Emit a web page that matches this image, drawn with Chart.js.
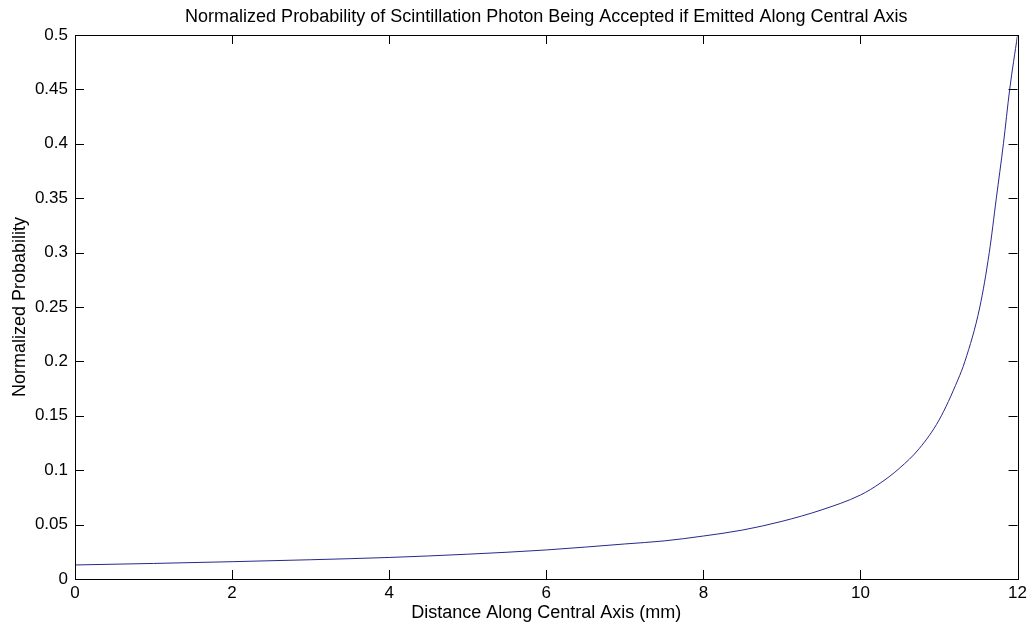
<!DOCTYPE html>
<html>
<head>
<meta charset="utf-8">
<script src="https://cdn.jsdelivr.net/npm/chart.js@4"></script>
<style>
  html, body { margin:0; padding:0; background:#fff; }
  #wrap { width:1031px; height:627px; }
</style>
</head>
<body>
<div id="wrap"><canvas id="chart"></canvas></div>
<script>
// values
const distance = [0, 1, 2, 3, 4, 5, 6, 7, 7.5, 8, 8.5, 9, 9.5, 10, 10.25, 10.5, 10.75, 11, 11.24, 11.33, 11.52, 11.64, 11.73, 11.82, 11.9, 12];
const probability = [0.0129, 0.0143, 0.0159, 0.0177, 0.0198, 0.0228, 0.0267, 0.0322, 0.035, 0.0395, 0.045, 0.053, 0.0634, 0.0772, 0.088, 0.102, 0.12, 0.146, 0.183, 0.2, 0.25, 0.3, 0.35, 0.4, 0.45, 0.5];
const xTicks = [0, 2, 4, 6, 8, 10, 12];
const yTicks = [0, 0.05, 0.1, 0.15, 0.2, 0.25, 0.3, 0.35, 0.4, 0.45, 0.5];
const yTickLabels = ['0', '0.05', '0.1', '0.15', '0.2', '0.25', '0.3', '0.35', '0.4', '0.45', '0.5'];

const FONT = '"Liberation Sans", Arial, sans-serif';
const TICK_LEN = 9;

// MATLAB-ish box with inward ticks on all four sides
const boxTicks = {
  id: 'boxTicks',
  afterDraw(chart) {
    const {ctx, chartArea: a, scales} = chart;
    ctx.save();
    ctx.strokeStyle = '#000';
    ctx.lineWidth = 1;
    ctx.strokeRect(Math.round(a.left) + 0.5, Math.round(a.top) + 0.5,
                   Math.round(a.right - a.left), Math.round(a.bottom - a.top));
    ctx.beginPath();
    xTicks.forEach(v => {
      const px = Math.round(scales.x.getPixelForValue(v)) + 0.5;
      ctx.moveTo(px, a.bottom); ctx.lineTo(px, a.bottom - TICK_LEN);
      ctx.moveTo(px, a.top);    ctx.lineTo(px, a.top + TICK_LEN);
    });
    yTicks.forEach(v => {
      const py = Math.round(scales.y.getPixelForValue(v)) + 0.5;
      ctx.moveTo(a.left, py);  ctx.lineTo(a.left + TICK_LEN, py);
      ctx.moveTo(a.right, py); ctx.lineTo(a.right - TICK_LEN, py);
    });
    ctx.stroke();
    ctx.restore();
  }
};

new Chart(document.getElementById('chart'), {
  type: 'line',
  data: {
    datasets: [{
      data: distance.map((d, i) => ({x: d, y: probability[i]})),
      borderColor: '#28288c',
      borderWidth: 1,
      pointRadius: 0,
      cubicInterpolationMode: 'monotone',
      fill: false
    }]
  },
  options: {
    responsive: true,
    maintainAspectRatio: false,
    animation: false,
    layout: { padding: { left: 0, right: 13, top: 0, bottom: 0 } },
    plugins: {
      legend: { display: false },
      tooltip: { enabled: false },
      title: {
        display: true,
        fullSize: false, // centre over the plot box, like MATLAB
        text: 'Normalized Probability of Scintillation Photon Being Accepted if Emitted Along Central Axis',
        color: '#000',
        font: { family: FONT, size: 18, weight: 'normal', lineHeight: 1.2 },
        padding: { top: 6.5, bottom: 6.9 }
      }
    },
    scales: {
      x: {
        type: 'linear',
        min: 0, max: 12,
        afterFit: s => { s.height = 48; },
        afterBuildTicks: s => { s.ticks = xTicks.map(v => ({value: v})); },
        grid: { display: false, drawTicks: false },
        border: { display: false },
        ticks: { color: '#000', font: { family: FONT, size: 17 }, padding: 4, maxRotation: 0 },
        title: {
          display: true, text: 'Distance Along Central Axis (mm)', color: '#000',
          font: { family: FONT, size: 18 }, padding: { top: 0, bottom: 3 }
        }
      },
      y: {
        type: 'linear',
        min: 0, max: 0.5,
        afterFit: s => { s.width = 75; },
        afterBuildTicks: s => { s.ticks = yTicks.map(v => ({value: v})); },
        grid: { display: false, drawTicks: false },
        border: { display: false },
        ticks: {
          color: '#000', font: { family: FONT, size: 17 }, padding: 7,
          callback: (v) => yTickLabels[yTicks.findIndex(t => Math.abs(t - v) < 1e-9)]
        },
        title: {
          display: true, text: 'Normalized Probability', color: '#000',
          font: { family: FONT, size: 18 }, padding: { top: 9, bottom: 0 }
        }
      }
    }
  },
  plugins: [boxTicks]
});
</script>
</body>
</html>
